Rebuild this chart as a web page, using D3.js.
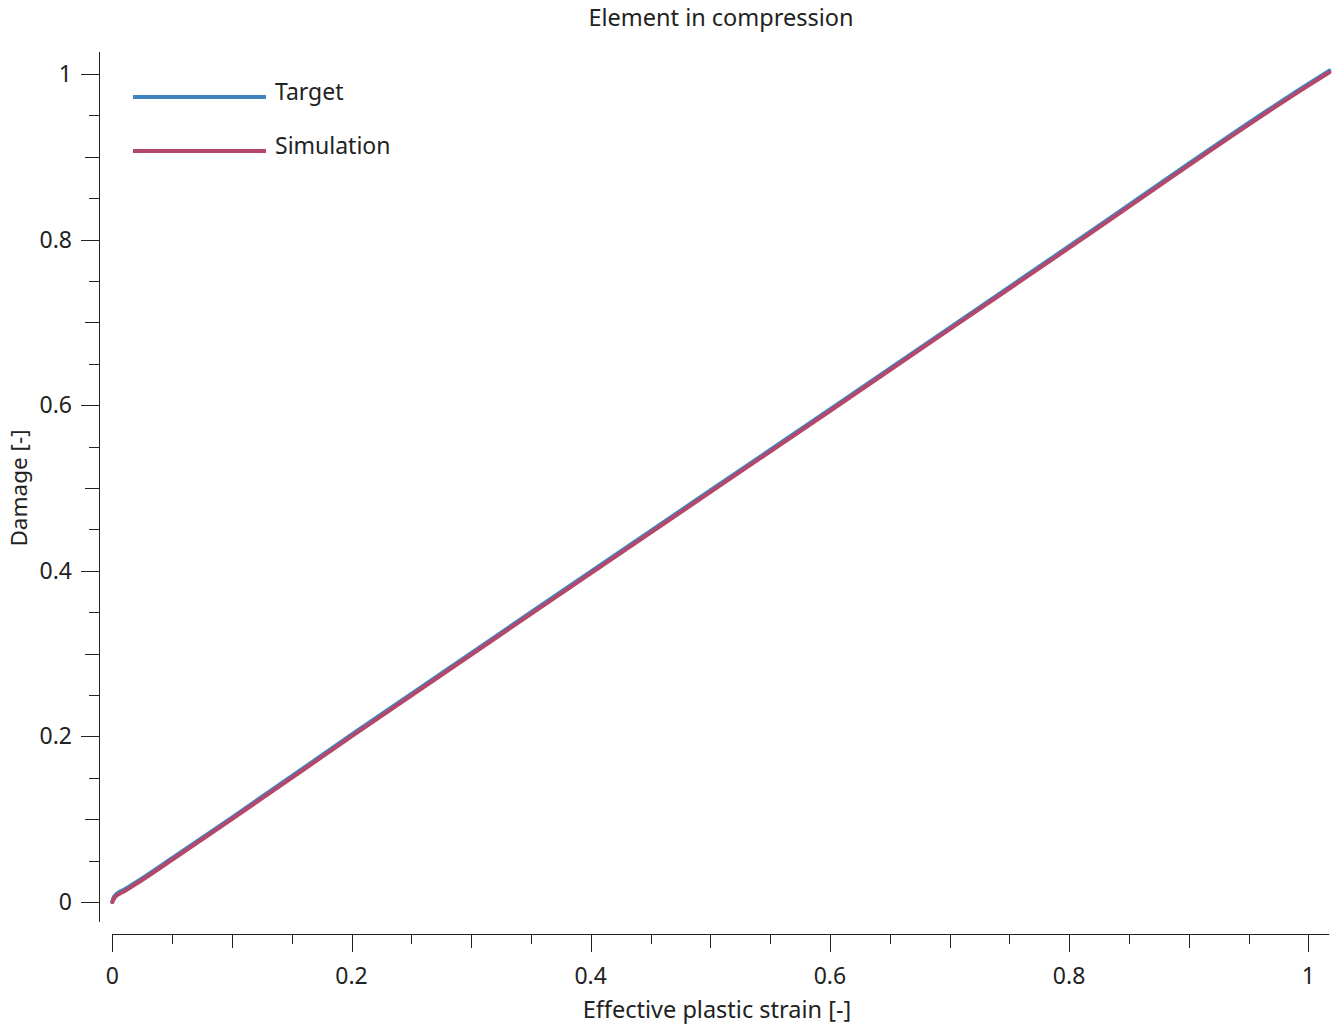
<!DOCTYPE html>
<html><head><meta charset="utf-8">
<script src="https://cdn.jsdelivr.net/npm/d3@7"></script>
<style>body{margin:0;background:#fff;} text{font-family:"Noto Sans",sans-serif;fill:#222;}</style>
</head><body>
<svg id="c" width="1339" height="1024"></svg>
<script>
const targetStrain = [0, 0.001, 0.003, 0.006, 0.01, 0.02, 0.05, 0.1, 0.2, 0.4, 0.6, 0.8, 1.0, 1.0176];
const targetDamage = [0, 0.005, 0.009, 0.012, 0.015, 0.024, 0.053, 0.102, 0.202, 0.399, 0.595, 0.792, 0.988, 1.004];
const simStrain = [0, 0.001, 0.003, 0.006, 0.01, 0.02, 0.05, 0.1, 0.2, 0.4, 0.6, 0.8, 1.0, 1.0176];
const simDamage = [0, 0.003, 0.007, 0.010, 0.013, 0.022, 0.051, 0.100, 0.200, 0.397, 0.593, 0.790, 0.986, 1.002];
const seriesNames = ["Target", "Simulation"];
const seriesColors = ["#3f83bf", "#b5476b"];
const xMajorTicks = [0, 0.2, 0.4, 0.6, 0.8, 1];
const yMajorTicks = [0, 0.2, 0.4, 0.6, 0.8, 1];
const title = "Element in compression";
const xLabel = "Effective plastic strain [-]";
const yLabel = "Damage [-]";

const svg = d3.select("#c");
const x = d3.scaleLinear().domain([0, 1]).range([112.3, 1308.3]);
const y = d3.scaleLinear().domain([0, 1]).range([902, 74]);
const xAxisY = 934, yAxisX = 99;

svg.append("line").attr("x1", x(0)).attr("x2", x(1.0176)).attr("y1", xAxisY + 0.5).attr("y2", xAxisY + 0.5).attr("stroke", "#222").attr("stroke-width", 1);
svg.append("line").attr("x1", yAxisX + 0.5).attr("x2", yAxisX + 0.5).attr("y1", y(1.0266)).attr("y2", y(-0.024)).attr("stroke", "#222").attr("stroke-width", 1);

function tickLen(v){
  const k = Math.round(v*20);
  if (k % 4 === 0) return 18;
  if (k % 2 === 0) return 14;
  return 10;
}
const minor = d3.range(0, 21).map(i => i/20);
svg.append("g").selectAll("line").data(minor).join("line")
  .attr("x1", d => Math.round(x(d))+0.5).attr("x2", d => Math.round(x(d))+0.5)
  .attr("y1", xAxisY).attr("y2", d => xAxisY + tickLen(d)).attr("stroke", "#222");
svg.append("g").selectAll("text").data(xMajorTicks).join("text")
  .attr("x", d => x(d)).attr("y", 984).attr("text-anchor", "middle").attr("font-size", 23)
  .text(d => d3.format("")(d));
svg.append("g").selectAll("line").data(minor).join("line")
  .attr("y1", d => Math.round(y(d))+0.5).attr("y2", d => Math.round(y(d))+0.5)
  .attr("x1", yAxisX).attr("x2", d => yAxisX - tickLen(d)).attr("stroke", "#222");
svg.append("g").selectAll("text").data(yMajorTicks).join("text")
  .attr("x", 72).attr("y", d => y(d)+8).attr("text-anchor", "end").attr("font-size", 23)
  .text(d => d3.format("")(d));

const line = d3.line().x(d => x(d[0])).y(d => y(d[1])).curve(d3.curveMonotoneX);
const sets = [d3.zip(targetStrain, targetDamage), d3.zip(simStrain, simDamage)];
sets.forEach((s, i) => {
  svg.append("path").datum(s).attr("d", line).attr("fill", "none")
    .attr("stroke", seriesColors[i]).attr("stroke-width", 4).attr("stroke-linecap", "round").attr("stroke-linejoin", "round");
});

seriesNames.forEach((n, i) => {
  const ly = 97 + i*54;
  svg.append("line").attr("x1", 133).attr("x2", 266).attr("y1", ly).attr("y2", ly)
    .attr("stroke", seriesColors[i]).attr("stroke-width", 4);
  svg.append("text").attr("x", 275).attr("y", ly + 3).attr("font-size", 23).text(n);
});

svg.append("text").attr("x", 721).attr("y", 26).attr("text-anchor", "middle").attr("font-size", 23.5).text(title);
svg.append("text").attr("x", 717).attr("y", 1018).attr("text-anchor", "middle").attr("font-size", 23.5).text(xLabel);
svg.append("text").attr("transform", "translate(27,488) rotate(-90)").attr("text-anchor", "middle").attr("font-size", 22.5).text(yLabel);
</script>
</body></html>
